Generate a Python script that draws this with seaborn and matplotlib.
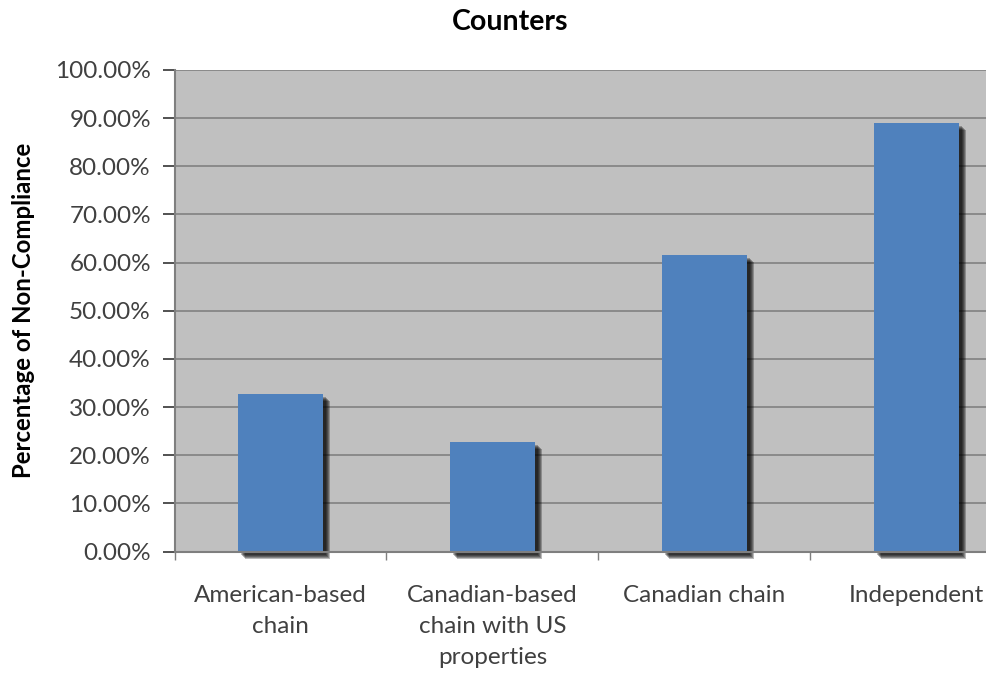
import matplotlib
matplotlib.use("Agg")
import matplotlib.pyplot as plt
import matplotlib.patheffects as pe
from matplotlib.ticker import FuncFormatter, MultipleLocator, FixedLocator
import seaborn as sns

# Share of non-compliant counters by operator type (percent)
categories = [
    "American-based\nchain",
    "Canadian-based\nchain with US\nproperties",
    "Canadian chain",
    "Independent",
]
values = [32.7, 22.7, 61.5, 88.9]

title = "Counters"
ylabel = "Percentage of Non-Compliance"

sns.set_style("white")
plt.rcParams["font.family"] = ["Lato", "DejaVu Sans"]

BAR_BLUE = "#4F81BD"
PLOT_BG = "#C0C0C0"
GRID = "#868686"
TEXT = "#404040"

fig = plt.figure(figsize=(9.87, 6.73), dpi=100)
fig.patch.set_facecolor("white")
ax = fig.add_axes([0.1768, 0.1805, 0.859, 0.7155])
ax.set_facecolor(PLOT_BG)

# soft drop shadow: several offset copies of each bar, layered
px = 72 / 100.0
shadow = []
for d in [3.0, 4.0, 5.0, 6.0, 7.0]:
    shadow.append(pe.SimplePatchShadow(offset=(d * px, -d * px), shadow_rgbFace="black", alpha=0.27))
shadow.append(pe.Normal())

sns.barplot(x=categories, y=values, color=BAR_BLUE, saturation=1, width=0.4,
            ax=ax, zorder=3, linewidth=0)
for p in ax.patches:
    p.set_path_effects(shadow)
    p.set_clip_on(False)

ax.set_xlim(-0.5, 3.5)
ax.set_ylim(0, 100)
ax.yaxis.set_major_locator(MultipleLocator(10))
ax.yaxis.set_major_formatter(FuncFormatter(lambda v, _: f"{v:.2f}%"))
ax.grid(axis="y", color=GRID, linewidth=1.3, zorder=1)
ax.set_axisbelow(True)

for side in ["top", "right"]:
    ax.spines[side].set_visible(False)
for side in ["left", "bottom"]:
    ax.spines[side].set_color("#7f7f7f")
    ax.spines[side].set_linewidth(1.5)
    ax.spines[side].set_zorder(4)

ax.tick_params(axis="y", direction="out", length=9, width=1.2, color="#333333",
               labelsize=17.5, labelcolor=TEXT, pad=8, left=True)
ax.xaxis.set_minor_locator(FixedLocator([-0.5, 0.5, 1.5, 2.5, 3.5]))
ax.tick_params(axis="x", which="major", length=0, pad=24, labelsize=17.5, labelcolor=TEXT)
ax.tick_params(axis="x", which="minor", direction="out", length=6, width=1.0,
               color="#7f7f7f", bottom=True)
for lbl in ax.get_xticklabels():
    lbl.set_linespacing(1.6)
    lbl.set_va("top")

ax.set_xlabel("")
ax.set_ylabel(ylabel, fontsize=17.3, fontweight="bold", color="black")
ax.yaxis.set_label_coords(-0.164, 0.5)

fig.text(0.517, 0.968, title, ha="center", va="center", fontsize=20.5,
         fontweight="bold", color="black")

fig.savefig("out.png", dpi=100)
